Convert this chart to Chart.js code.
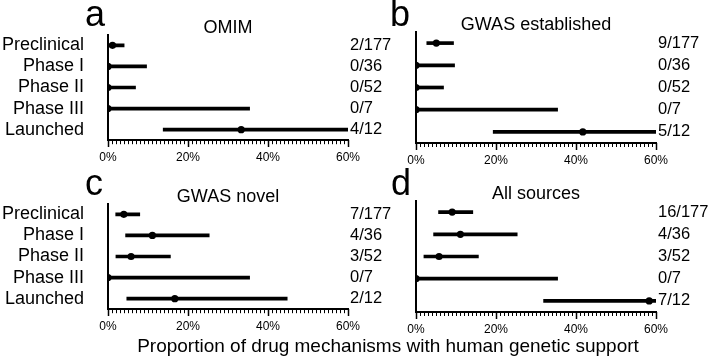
<!DOCTYPE html>
<html>
<head>
<meta charset="utf-8">
<script src="https://cdn.jsdelivr.net/npm/chart.js@4.4.1/dist/chart.umd.min.js"></script>
<style>
  body { margin: 0; background: #fff; }
  #wrap { position: relative; width: 708px; height: 358px; overflow: hidden;
          font-family: 'Liberation Sans', Arial, sans-serif; color: #000; }
  canvas { position: absolute; }
  .letter { position: absolute; font-size: 36px; line-height: 36px; }
  #xtitle { position: absolute; left: 0; top: 336px; width: 776px; text-align: center;
            font-size: 19px; line-height: 19px; white-space: nowrap; }
</style>
</head>
<body>
<div id="wrap">
  <canvas id="pa" width="410" height="175" style="left:0;top:0"></canvas>
  <canvas id="pb" width="358" height="175" style="left:350px;top:0"></canvas>
  <canvas id="pc" width="410" height="175" style="left:0;top:169px"></canvas>
  <canvas id="pd" width="358" height="175" style="left:350px;top:169px"></canvas>
  <div class="letter" style="left:85px;top:-4px">a</div>
  <div class="letter" style="left:390px;top:-4px">b</div>
  <div class="letter" style="left:85px;top:165px">c</div>
  <div class="letter" style="left:391px;top:165px">d</div>
  <div id="xtitle">Proportion of drug mechanisms with human genetic support</div>
</div>
<script>
var FONT = "'Liberation Sans', Arial, sans-serif";

var categories = ['Preclinical', 'Phase I', 'Phase II', 'Phase III', 'Launched'];

// a: OMIM (percent, with 95% interval)
var omimCounts = ['2/177', '0/36', '0/52', '0/7', '4/12'];
var omimEst = [1.13, 0, 0, 0, 33.3];
var omimLow = [0.31, 0, 0, 0, 13.8];
var omimHigh = [4.03, 9.64, 6.88, 35.4, 60.9];

// b: GWAS established
var estabCounts = ['9/177', '0/36', '0/52', '0/7', '5/12'];
var estabEst = [5.08, 0, 0, 0, 41.7];
var estabLow = [2.70, 0, 0, 0, 19.3];
var estabHigh = [9.38, 9.64, 6.88, 35.4, 68.0];

// c: GWAS novel
var novelCounts = ['7/177', '4/36', '3/52', '0/7', '2/12'];
var novelEst = [3.95, 11.1, 5.77, 0, 16.7];
var novelLow = [1.93, 4.40, 1.98, 0, 4.70];
var novelHigh = [7.94, 25.3, 15.6, 35.4, 44.8];

// d: All sources
var allCounts = ['16/177', '4/36', '3/52', '0/7', '7/12'];
var allEst = [9.04, 11.1, 5.77, 0, 58.3];
var allLow = [5.64, 4.40, 1.98, 0, 31.9];
var allHigh = [14.2, 25.3, 15.6, 35.4, 80.7];

function makePanel(id, title, counts, est, low, high, leftWidth, rightWidth, showCats) {
    var ctx = document.getElementById(id).getContext('2d');
    return new Chart(ctx, {
        type: 'bar',
        data: {
            labels: categories,
            datasets: [{
                // interval lines
                data: low.map(function (l, i) { return [l, high[i]]; }),
                backgroundColor: '#000',
                barThickness: 3,
                clip: 0,
                xAxisID: 'x',
                yAxisID: 'y'
            }, {
                // point estimates
                type: 'line',
                data: est,
                showLine: false,
                pointRadius: 3.6,
                pointBackgroundColor: '#000',
                pointBorderColor: '#000',
                pointBorderWidth: 0,
                clip: 0,
                xAxisID: 'x',
                yAxisID: 'y'
            }]
        },
        options: {
            indexAxis: 'y',
            responsive: false,
            animation: false,
            devicePixelRatio: 1,
            layout: { padding: 0 },
            plugins: {
                legend: { display: false },
                tooltip: { enabled: false },
                title: {
                    display: true,
                    text: title,
                    fullSize: false,
                    color: '#000',
                    font: { family: FONT, size: 18, weight: 'normal', lineHeight: 1 },
                    padding: { top: 16, bottom: -2 }
                }
            },
            scales: {
                // minor ticks every 1%, labels every 20%
                x: {
                    type: 'linear',
                    min: 0,
                    max: 60,
                    position: 'bottom',
                    border: { display: true, color: '#000', width: 2 },
                    grid: { display: true, drawOnChartArea: false, drawTicks: true, tickLength: 4, tickWidth: 1, tickColor: '#000', color: '#000' },
                    ticks: {
                        stepSize: 1,
                        maxTicksLimit: 100,
                        autoSkip: false,
                        maxRotation: 0,
                        minRotation: 0,
                        padding: 6,
                        color: '#000',
                        font: { family: FONT, size: 12 },
                        callback: function (v) { return v % 20 === 0 ? v + '%' : ''; }
                    },
                    afterFit: function (s) { s.height = 32; }
                },
                // longer major ticks
                x2: {
                    type: 'linear',
                    axis: 'x',
                    min: 0,
                    max: 60,
                    position: { y: 4.5 },
                    border: { display: false },
                    grid: { display: true, drawOnChartArea: false, drawTicks: true, tickLength: 7, tickWidth: 1.5, tickColor: '#000', color: '#000' },
                    ticks: { display: false, stepSize: 20 }
                },
                y: {
                    type: 'category',
                    position: 'left',
                    offset: true,
                    border: { display: true, color: '#000', width: 2 },
                    grid: { display: false, drawTicks: false },
                    ticks: { display: showCats, autoSkip: false, padding: 24, color: '#000', font: { family: FONT, size: 18 } },
                    afterFit: function (s) { s.width = leftWidth; }
                },
                y2: {
                    type: 'category',
                    axis: 'y',
                    position: 'right',
                    labels: counts,
                    offset: true,
                    border: { display: false },
                    grid: { display: false, drawTicks: false },
                    ticks: { autoSkip: false, padding: 2, color: '#000', font: { family: FONT, size: 16.5 } },
                    afterFit: function (s) { s.width = rightWidth; }
                }
            }
        }
    });
}

makePanel('pa', 'OMIM', omimCounts, omimEst, omimLow, omimHigh, 108, 62, true);
makePanel('pb', 'GWAS established', estabCounts, estabEst, estabLow, estabHigh, 66, 52, false);
makePanel('pc', 'GWAS novel', novelCounts, novelEst, novelLow, novelHigh, 108, 62, true);
makePanel('pd', 'All sources', allCounts, allEst, allLow, allHigh, 66, 52, false);
</script>
</body>
</html>
